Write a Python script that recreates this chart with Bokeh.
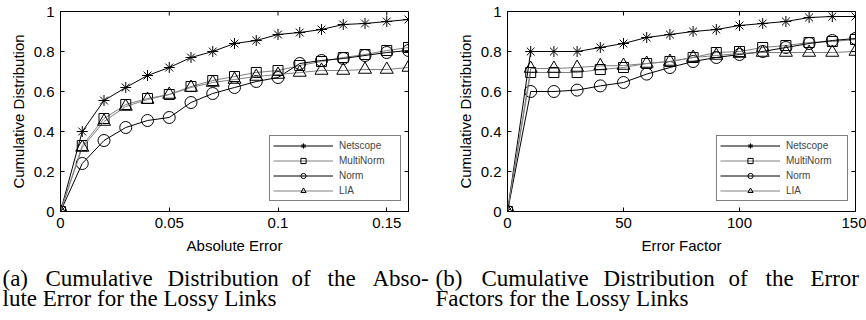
from bokeh.plotting import figure
from bokeh.layouts import row, column
from bokeh.models import FixedTicker, Legend, LegendItem, Range1d
from bokeh.core.properties import value
from bokeh.embed import file_html
from bokeh.resources import INLINE

# ---------------- data ----------------
series_names = ["Netscope", "MultiNorm", "Norm", "LIA"]

abs_x = [0, 0.01, 0.02, 0.03, 0.04, 0.05, 0.06, 0.07, 0.08, 0.09, 0.10,
         0.11, 0.12, 0.13, 0.14, 0.15, 0.16]
abs_netscope = [0, 0.40, 0.555, 0.62, 0.68, 0.72, 0.77, 0.80, 0.84, 0.855, 0.885,
                0.895, 0.91, 0.935, 0.94, 0.95, 0.96]
abs_multinorm = [0, 0.33, 0.465, 0.535, 0.565, 0.585, 0.625, 0.655, 0.675, 0.695, 0.705,
                 0.73, 0.75, 0.77, 0.785, 0.805, 0.82]
abs_norm = [0, 0.24, 0.355, 0.42, 0.455, 0.47, 0.545, 0.59, 0.62, 0.65, 0.67,
            0.74, 0.755, 0.765, 0.78, 0.795, 0.805]
abs_lia = [0, 0.32, 0.45, 0.525, 0.56, 0.585, 0.62, 0.645, 0.66, 0.675, 0.685,
           0.695, 0.705, 0.705, 0.71, 0.71, 0.72]

ef_x = [0, 10, 20, 30, 40, 50, 60, 70, 80, 90, 100, 110, 120, 130, 140, 150]
ef_netscope = [0, 0.80, 0.80, 0.80, 0.82, 0.84, 0.87, 0.885, 0.90, 0.91, 0.93,
               0.94, 0.95, 0.97, 0.975, 0.975]
ef_multinorm = [0, 0.695, 0.695, 0.695, 0.71, 0.72, 0.74, 0.75, 0.77, 0.795, 0.80,
                0.82, 0.83, 0.845, 0.85, 0.86]
ef_norm = [0, 0.60, 0.60, 0.607, 0.628, 0.645, 0.687, 0.72, 0.75, 0.77, 0.785,
           0.80, 0.82, 0.84, 0.855, 0.865]
ef_lia = [0, 0.715, 0.715, 0.72, 0.728, 0.73, 0.74, 0.75, 0.77, 0.78, 0.79,
          0.795, 0.795, 0.795, 0.795, 0.80]

abs_xticks = [0, 0.05, 0.1, 0.15]
abs_xtick_labels = ["0", "0.05", "0.1", "0.15"]
ef_xticks = [0, 50, 100, 150]
ef_xtick_labels = ["0", "50", "100", "150"]
yticks = [0, 0.2, 0.4, 0.6, 0.8, 1]
ytick_labels = ["0", "0.2", "0.4", "0.6", "0.8", "1"]

y_label = "Cumulative Distribution"
abs_xlabel = "Absolute Error"
ef_xlabel = "Error Factor"

caption_a_line1 = ["(a)", "Cumulative", "Distribution", "of", "the", "Abso-"]
caption_a_line2 = "lute Error for the Lossy Links"
caption_b_line1 = ["(b)", "Cumulative", "Distribution", "of", "the", "Error"]
caption_b_line2 = "Factors for the Lossy Links"

# ---------------- styles / layout ----------------
line_colors = ["black", "#808080", "black", "#808080"]
markers = ["asterisk", "square", "circle", "triangle"]
marker_sizes = [11, 10, 12, 13]

TICK_FONT = "Liberation Sans"
FS = "15px"
CHART_H = 262
CAP_H = 320 - CHART_H
FRAME_TOP = 11
FRAME_BOTTOM_Y = 211          # canvas y of the frame bottom
TICK_LEN = 4                  # px, inward ticks

# word start x positions (px from panel left) of the justified first caption lines
cap_a_pos = [2, 45, 167, 291, 327, 372]
cap_b_pos = [2, 48, 170, 295, 332, 377]
cap_baselines = [278, 298]    # canvas y of the caption baselines
CAP_FONT = "Liberation Serif"
CAP_FS = "23px"


def make_panel(x, ys, xmax, xticks, xticklabels, xlabel, border_left, border_right):
    W = 433
    p = figure(width=W, height=CHART_H, x_range=Range1d(0, xmax), y_range=Range1d(0, 1),
               toolbar_location=None, output_backend="svg",
               min_border_left=border_left, min_border_right=border_right,
               min_border_top=FRAME_TOP, min_border_bottom=CHART_H - FRAME_BOTTOM_Y,
               background_fill_color="white", border_fill_color="white")
    p.outline_line_color = "black"
    p.outline_line_width = 1
    p.grid.visible = False

    renderers = []
    for yv, col, mk, ms in zip(ys, line_colors, markers, marker_sizes):
        lr = p.line(x, yv, line_color=col, line_width=1)
        sr = p.scatter(x, yv, marker=mk, size=ms, line_color="black",
                       fill_alpha=0, line_width=1)
        renderers.append([lr, sr])

    xov = {t: l for t, l in zip(xticks, xticklabels)}
    yov = {t: l for t, l in zip(yticks, ytick_labels)}

    for ax, ticks, ov in ((p.xaxis[0], xticks, xov), (p.yaxis[0], yticks, yov)):
        ax.ticker = FixedTicker(ticks=ticks)
        ax.major_label_overrides = ov
        ax.major_tick_in = TICK_LEN
        ax.major_tick_out = 0
        ax.minor_tick_line_color = None
        ax.axis_line_color = "black"
        ax.major_tick_line_color = "black"
        ax.major_label_text_font = TICK_FONT
        ax.major_label_text_font_size = FS
        ax.major_label_text_color = "black"
        ax.axis_label_text_font = TICK_FONT
        ax.axis_label_text_font_size = FS
        ax.axis_label_text_font_style = "normal"
        ax.axis_label_text_color = "black"

    p.xaxis[0].axis_label = xlabel
    p.xaxis[0].major_label_standoff = 6
    p.xaxis[0].axis_label_standoff = 6
    p.yaxis[0].axis_label = y_label
    p.yaxis[0].major_label_standoff = 6
    p.yaxis[0].axis_label_standoff = 4

    # mirrored inward ticks on the top and right edges (box on)
    frame_w = W - border_left - border_right
    frame_h = FRAME_BOTTOM_Y - FRAME_TOP
    dy = TICK_LEN / frame_h * 1.0
    dx = TICK_LEN / frame_w * xmax
    p.segment(x0=xticks, y0=[1] * len(xticks), x1=xticks, y1=[1 - dy] * len(xticks),
              line_color="black", line_width=1)
    p.segment(x0=[xmax] * len(yticks), y0=yticks, x1=[xmax - dx] * len(yticks), y1=yticks,
              line_color="black", line_width=1)

    legend = Legend(items=[LegendItem(label=n, renderers=r) for n, r in zip(series_names, renderers)],
                    location=(209, 10), padding=3, spacing=2, glyph_width=60, glyph_height=13,
                    label_height=13, label_standoff=6, label_width=58,
                    label_text_font=TICK_FONT, label_text_font_size="10px",
                    border_line_color="black", border_line_width=1,
                    background_fill_color="white", background_fill_alpha=1,
                    margin=0)
    p.add_layout(legend)
    return p


def make_caption(line1_words, line1_pos, line2_text):
    c = figure(width=433, height=CAP_H, x_range=Range1d(0, 433), y_range=Range1d(CAP_H, 0),
               toolbar_location=None, output_backend="svg", x_axis_type=None, y_axis_type=None,
               min_border=0, border_fill_color="white", background_fill_color="white")
    c.outline_line_color = None
    c.grid.visible = False
    xs = list(line1_pos) + [line1_pos[0]]
    ys = [cap_baselines[0] - CHART_H] * len(line1_words) + [cap_baselines[1] - CHART_H]
    words = list(line1_words) + [line2_text]
    c.text(x=xs, y=ys, text=words, text_font=value(CAP_FONT),
           text_font_size=value(CAP_FS), text_color="black", text_baseline="alphabetic",
           text_align="left")
    return c


p1 = make_panel(abs_x, [abs_netscope, abs_multinorm, abs_norm, abs_lia], 0.16,
                abs_xticks, abs_xtick_labels, abs_xlabel, 60, 25)
p2 = make_panel(ef_x, [ef_netscope, ef_multinorm, ef_norm, ef_lia], 150,
                ef_xticks, ef_xtick_labels, ef_xlabel, 74, 11)
c1 = make_caption(caption_a_line1, cap_a_pos, caption_a_line2)
c2 = make_caption(caption_b_line1, cap_b_pos, caption_b_line2)

p = column(row(p1, p2, spacing=0), row(c1, c2, spacing=0), spacing=0)
open("out.html", "w").write(file_html(p, INLINE))
